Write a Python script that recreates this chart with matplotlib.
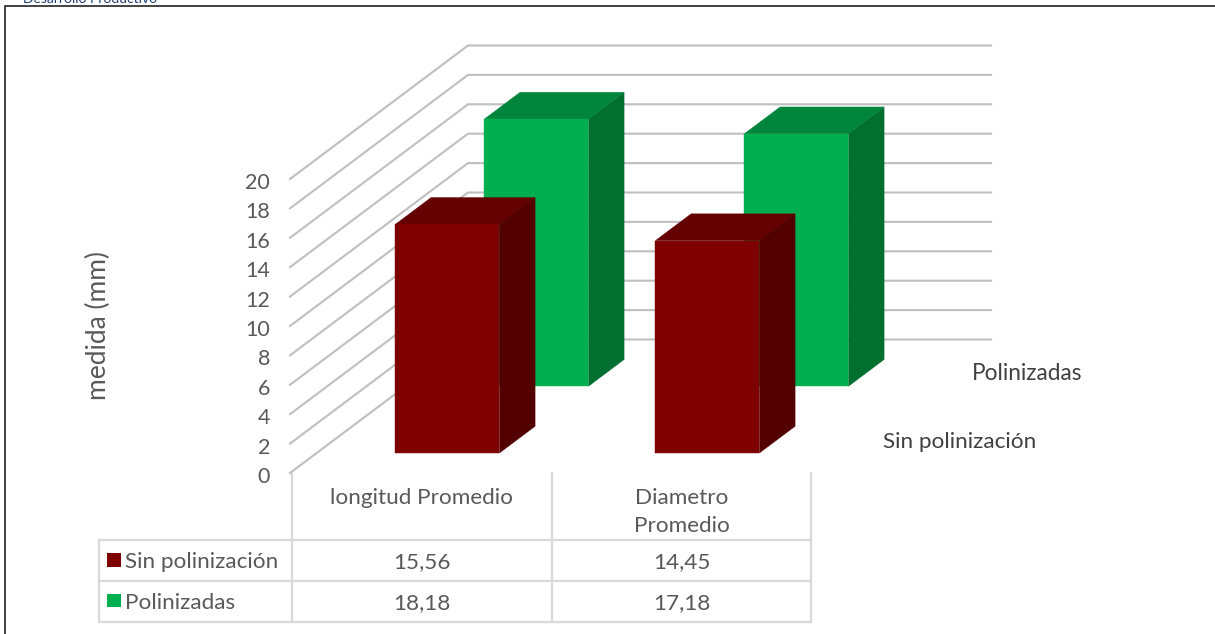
import matplotlib
matplotlib.use("Agg")
import matplotlib.pyplot as plt
from matplotlib.patches import Polygon, Rectangle

plt.rcParams['font.family'] = ['Lato', 'DejaVu Sans']

# data
categories = ["longitud Promedio", "Diametro\nPromedio"]
series_names = ["Sin polinización", "Polinizadas"]
sin_polinizacion = [15.56, 14.45]
polinizadas = [18.18, 17.18]
table_sin = ["15,56", "14,45"]
table_pol = ["18,18", "17,18"]
y_ticks = list(range(0, 21, 2))

W, H = 1215, 634
fig = plt.figure(figsize=(W / 100, H / 100), dpi=100, facecolor="white")

# overlay in pixel coords for the frame and data table
page = fig.add_axes([0, 0, 1, 1])
page.set_xlim(0, W)
page.set_ylim(H, 0)
page.axis("off")

# front plane of the chart: x in categories, y in mm
ax = fig.add_axes([290 / W, (H - 473) / H, 520 / W, 294 / H])
ax.set_xlim(0, 2)
ax.set_ylim(0, 20)
ax.axis("off")

DEPTH_X = 178 / 260  # category units per full depth
DEPTH_Y = 133.5 / 14.7  # mm per full depth


def project(x, depth, val):
    return x + depth * DEPTH_X, val + depth * DEPTH_Y


def bar3d(center, depth, val, front, top, side):
    hw, hd = 0.2, 0.1
    x0, x1 = center - hw, center + hw
    d0, d1 = depth - hd, depth + hd
    ax.add_patch(Polygon([project(x1, d0, 0), project(x1, d1, 0), project(x1, d1, val), project(x1, d0, val)],
                         facecolor=side, edgecolor=side, lw=0.3, clip_on=False, zorder=3))
    ax.add_patch(Polygon([project(x0, d0, val), project(x1, d0, val), project(x1, d1, val), project(x0, d1, val)],
                         facecolor=top, edgecolor=top, lw=0.3, clip_on=False, zorder=3))
    ax.add_patch(Polygon([project(x0, d0, 0), project(x1, d0, 0), project(x1, d0, val), project(x0, d0, val)],
                         facecolor=front, edgecolor=front, lw=0.3, clip_on=False, zorder=3))


# gridlines: side wall then back wall
for v in y_ticks:
    xs, ys = zip(project(0, 0, v), project(0, 1, v), project(2.012, 1, v))
    ax.plot(xs, ys, color="#bfbfbf", lw=1.5, clip_on=False, solid_joinstyle="miter", zorder=1)
    ax.annotate(str(v), (0, v), xytext=(-20, -4), textcoords="offset pixels", ha="right", va="center",
                fontsize=15.5, color="#595959", annotation_clip=False)

# back row first, front row over it
for i in range(2):
    bar3d(i + 0.503, 0.75, polinizadas[i], "#00b050", "#00853c", "#006f30")
for i in range(2):
    bar3d(i + 0.503, 0.25, sin_polinizacion[i], "#7f0000", "#640000", "#520000")

# series labels on the depth axis
page.text(972, 374, series_names[1], ha="left", va="center", fontsize=16.3, color="#404040")
page.text(883, 442, series_names[0], ha="left", va="center", fontsize=16.2, color="#404040")

page.text(98, 326, "medida (mm)", rotation=90, ha="center", va="center", fontsize=19, color="#595959")

# data table
grid_c = "#d9d9d9"
col_x = [292, 552, 811]
row_y = [540, 581, 622]
for x in col_x:
    page.plot([x, x], [473, 622], color=grid_c, lw=1.6)
page.plot([99, 99], [540, 622], color=grid_c, lw=1.6)
for y in row_y:
    page.plot([99, 811], [y, y], color=grid_c, lw=1.6)

page.text(422, 498, categories[0], ha="center", va="center", fontsize=16.2, color="#595959")
page.text(682, 512, categories[1], ha="center", va="center", fontsize=16.2, color="#595959", linespacing=1.45)
for i in range(2):
    cx = (col_x[i] + col_x[i + 1]) / 2
    page.text(cx, 562, table_sin[i], ha="center", va="center", fontsize=16.2, color="#595959")
    page.text(cx, 603, table_pol[i], ha="center", va="center", fontsize=16.2, color="#595959")

page.add_patch(Rectangle((107, 553), 14, 14, facecolor="#7f0000", edgecolor="none"))
page.add_patch(Rectangle((107, 594), 14, 13, facecolor="#00b050", edgecolor="none"))
page.text(125, 562, series_names[0], ha="left", va="center", fontsize=16.2, color="#595959")
page.text(125, 603, series_names[1], ha="left", va="center", fontsize=16.2, color="#595959")

# outer frame (left and top only) and the cut-off page header
page.plot([5, 5, W], [640, 5.5, 5.5], color="#222222", lw=1.2, solid_joinstyle="miter")
page.text(23, 5, "Desarrollo Productivo", ha="left", va="bottom", fontsize=10, color="#1f3f70", clip_on=False)

fig.savefig("out.png", dpi=100)
